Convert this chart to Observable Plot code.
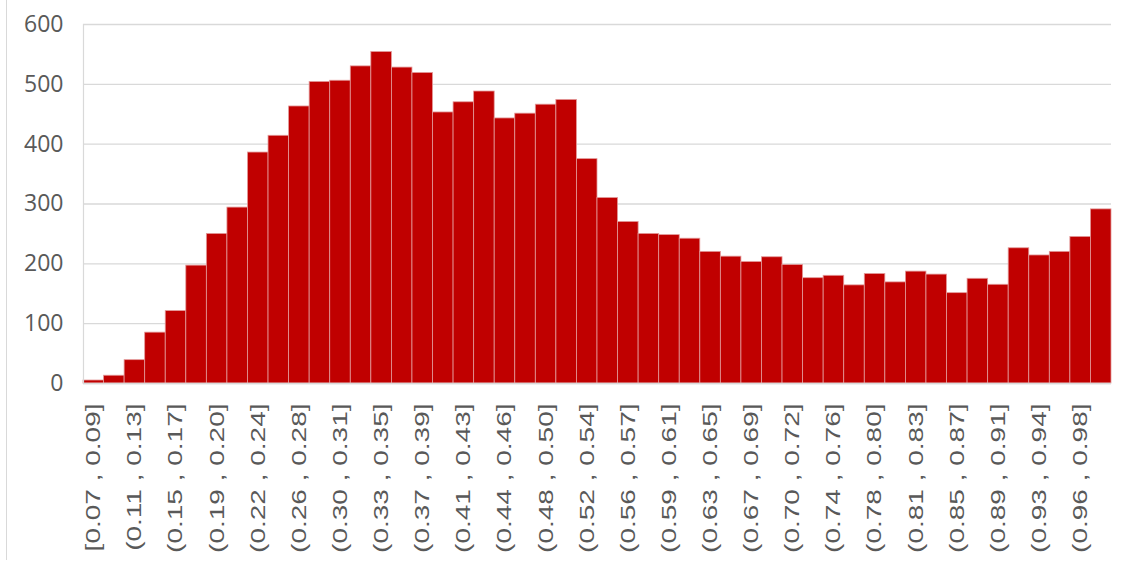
<!DOCTYPE html>
<html>
<head>
<meta charset="utf-8">
<script src="https://cdn.jsdelivr.net/npm/d3@7"></script>
<script src="https://cdn.jsdelivr.net/npm/@observablehq/plot@0.6"></script>
<style>
  html, body { margin: 0; padding: 0; background: #fff; }
  #wrap { position: relative; width: 1131px; height: 567px; overflow: hidden; }
  #border { position: absolute; left: 6px; top: 0; width: 0; height: 560px; border-left: 1px solid #d9d9d9; }
</style>
</head>
<body>
<div id="wrap"><div id="border"></div></div>
<script>
const edges = ["0.07","0.09","0.11","0.13","0.15","0.17","0.19","0.20","0.22","0.24",
  "0.26","0.28","0.30","0.31","0.33","0.35","0.37","0.39","0.41","0.43",
  "0.44","0.46","0.48","0.50","0.52","0.54","0.56","0.57","0.59","0.61",
  "0.63","0.65","0.67","0.69","0.70","0.72","0.74","0.76","0.78","0.80",
  "0.81","0.83","0.85","0.87","0.89","0.91","0.93","0.94","0.96","0.98","1.00"];
const counts = [5, 13, 39, 85, 121, 197, 250, 294, 386, 414,
  463, 504, 506, 530, 554, 528, 519, 453, 470, 488,
  443, 451, 466, 474, 375, 310, 270, 250, 248, 242,
  220, 212, 203, 211, 198, 176, 180, 164, 183, 169,
  187, 182, 151, 175, 165, 226, 214, 220, 245, 291];
const yTicks = [0, 100, 200, 300, 400, 500, 600];

const labels = counts.map((_, i) => (i === 0 ? "[" : "(") + edges[i] + " , " + edges[i + 1] + "]");
const data = counts.map((c, i) => ({bin: labels[i], count: c}));
const shownLabels = labels.filter((d, i) => i % 2 === 0);

const plot = Plot.plot({
  width: 1131,
  height: 567,
  marginLeft: 83,
  marginRight: 20,
  marginTop: 24,
  marginBottom: 184,
  style: {background: "transparent", overflow: "visible"},
  x: {type: "band", domain: labels, padding: 0, round: false, axis: null},
  y: {domain: [0, 600], axis: null},
  marks: [
    Plot.gridY(yTicks, {stroke: "#d9d9d9", strokeOpacity: 1, strokeWidth: 1.3}),
    Plot.barY(data, {x: "bin", y: "count", fill: "#c00000", stroke: "#e39a9a", strokeWidth: 0.8, inset: 0}),
    Plot.frame({anchor: "left", stroke: "#d9d9d9", strokeWidth: 1.2}),
    Plot.ruleY([0], {stroke: "#d9d9d9", strokeWidth: 1.3}),
    Plot.axisY({ticks: yTicks, tickSize: 0, tickPadding: 20, fontSize: 23, fontFamily: "Open Sans", fill: "#595959", label: null}),
    Plot.axisX({ticks: shownLabels, tickSize: 0, tickPadding: 20, tickRotate: -90, fontSize: 20, fontFamily: "Liberation Sans", fill: "#595959", label: null})
  ]
});

d3.select(plot).selectAll('[aria-label="x-axis tick label"] text').each(function () {
  const t = this.getAttribute("transform") || "";
  this.setAttribute("transform", t + " scale(1.4,1)");
  this.style.fontFamily = "'Liberation Sans', Arial, sans-serif";
});

document.getElementById("wrap").appendChild(plot);
plot.style.position = "absolute";
plot.style.left = "0";
plot.style.top = "0";
</script>
</body>
</html>
